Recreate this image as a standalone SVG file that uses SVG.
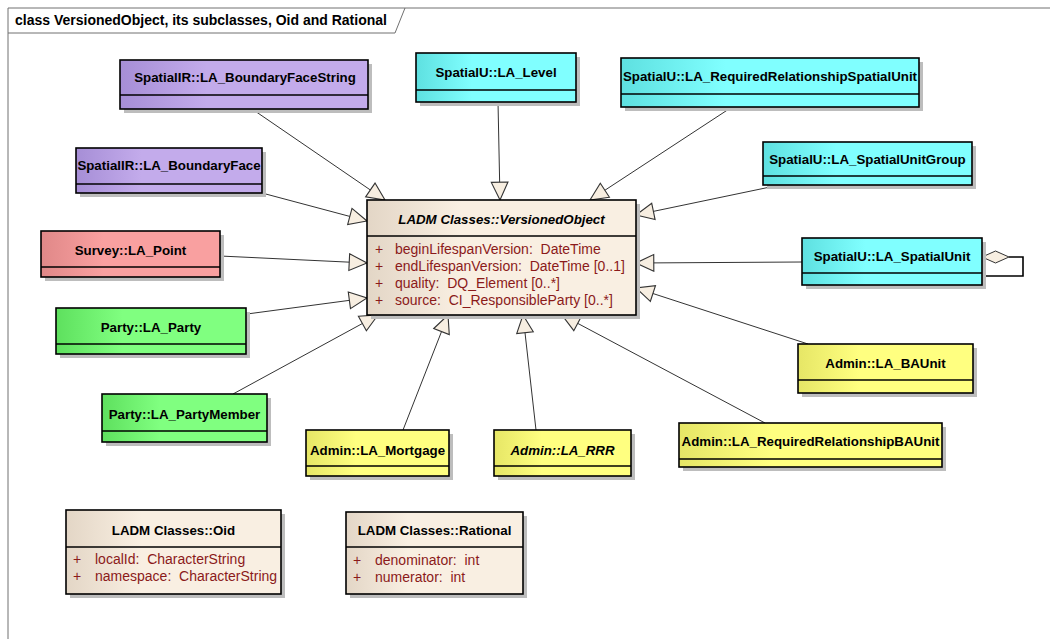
<svg xmlns="http://www.w3.org/2000/svg" width="1050" height="639" viewBox="0 0 1050 639">
<style>
.box{stroke:#000;stroke-width:1.6}
.sh{fill:#bdbdbd}
.div{stroke:#000;stroke-width:1.4}
.t{font-family:"Liberation Sans",Arial,sans-serif;font-size:13.3px;font-weight:bold;fill:#000;text-anchor:middle}
.ti{font-style:italic}
.a{font-family:"Liberation Sans",Arial,sans-serif;font-size:14px;fill:#8b1a1a;white-space:pre}
.c{stroke:#333;stroke-width:1;fill:none}
.frame{stroke:#707070;stroke-width:1;fill:none}
</style>
<defs>
<linearGradient id="gP" x1="0" y1="0" x2="1" y2="0"><stop offset="0" stop-color="#a68ed6"/><stop offset="0.35" stop-color="#c3abeb"/></linearGradient>
<linearGradient id="gC" x1="0" y1="0" x2="1" y2="0"><stop offset="0" stop-color="#5ee0e0"/><stop offset="0.35" stop-color="#80ffff"/></linearGradient>
<linearGradient id="gR" x1="0" y1="0" x2="1" y2="0"><stop offset="0" stop-color="#e08888"/><stop offset="0.35" stop-color="#f9a0a0"/></linearGradient>
<linearGradient id="gG" x1="0" y1="0" x2="1" y2="0"><stop offset="0" stop-color="#5ee05e"/><stop offset="0.35" stop-color="#80ff80"/></linearGradient>
<linearGradient id="gY" x1="0" y1="0" x2="1" y2="0"><stop offset="0" stop-color="#e6e666"/><stop offset="0.35" stop-color="#ffff80"/></linearGradient>
<linearGradient id="gB" x1="0" y1="0" x2="1" y2="0"><stop offset="0" stop-color="#e3d6c6"/><stop offset="0.35" stop-color="#f9efe2"/></linearGradient>
<marker id="gen" markerUnits="userSpaceOnUse" markerWidth="20" markerHeight="20" viewBox="-1 -9 18 18" refX="16" refY="0" orient="auto">
<path d="M0,-7.5 L16,0 L0,7.5 Z" fill="#f7eee1" stroke="#333" stroke-width="1"/>
</marker>
</defs>
<rect width="1050" height="639" fill="#fff"/>
<g id="frame">
<path class="frame" d="M8,639 V8 H1050"/>
<path class="frame" d="M8,33 H395 L405,8"/>
<text x="15" y="25" class="t" style="text-anchor:start;font-size:14px">class VersionedObject, its subclasses, Oid and Rational</text>
</g>
<g id="connectors">
<line class="c" x1="252" y1="109" x2="385" y2="200" marker-end="url(#gen)"/>
<line class="c" x1="498" y1="102" x2="500" y2="200" marker-end="url(#gen)"/>
<line class="c" x1="732" y1="107" x2="590" y2="200" marker-end="url(#gen)"/>
<line class="c" x1="262" y1="193" x2="367" y2="221" marker-end="url(#gen)"/>
<line class="c" x1="775" y1="186" x2="636" y2="215" marker-end="url(#gen)"/>
<line class="c" x1="220" y1="256" x2="367" y2="263" marker-end="url(#gen)"/>
<line class="c" x1="247" y1="314" x2="367" y2="298" marker-end="url(#gen)"/>
<line class="c" x1="233" y1="394" x2="378" y2="315" marker-end="url(#gen)"/>
<line class="c" x1="403" y1="430" x2="448" y2="315" marker-end="url(#gen)"/>
<line class="c" x1="536" y1="430" x2="523" y2="315" marker-end="url(#gen)"/>
<line class="c" x1="808" y1="344" x2="636" y2="288" marker-end="url(#gen)"/>
<line class="c" x1="765" y1="423" x2="562" y2="315" marker-end="url(#gen)"/>
<line class="c" x1="802" y1="262" x2="636" y2="263" marker-end="url(#gen)"/>
<path d="M1009,257 H1023 V276 H982" fill="none" stroke="#000" stroke-width="1.6"/>
<path d="M982,257 L995.5,251 L1009,257 L995.5,263 Z" fill="#f7eee1" stroke="#333" stroke-width="1"/>
</g>
<g id="VersionedObject">
<rect class="sh" x="371" y="204" width="269" height="115"/>
<rect class="box" x="367" y="200" width="269" height="115" fill="url(#gB)"/>
<line class="div" x1="367" y1="236" x2="636" y2="236"/>
<text x="501.5" y="224" class="t ti">LADM Classes::VersionedObject</text>
<text class="a" x="375" y="254">+</text><text class="a" x="395" y="254">beginLifespanVersion:  DateTime</text>
<text class="a" x="375" y="271">+</text><text class="a" x="395" y="271">endLifespanVersion:  DateTime [0..1]</text>
<text class="a" x="375" y="288">+</text><text class="a" x="395" y="288">quality:  DQ_Element [0..*]</text>
<text class="a" x="375" y="305">+</text><text class="a" x="395" y="305">source:  CI_ResponsibleParty [0..*]</text>
</g>
<g id="BoundaryFaceString">
<rect class="sh" x="124" y="64" width="248" height="49"/>
<rect class="box" x="120" y="60" width="248" height="49" fill="url(#gP)"/>
<line class="div" x1="120" y1="95" x2="368" y2="95"/>
<text x="245" y="82" class="t">SpatialIR::LA_BoundaryFaceString</text>
</g>
<g id="BoundaryFace">
<rect class="sh" x="80" y="152" width="186" height="45"/>
<rect class="box" x="76" y="148" width="186" height="45" fill="url(#gP)"/>
<line class="div" x1="76" y1="184" x2="262" y2="184"/>
<text x="169" y="170" class="t">SpatialIR::LA_BoundaryFace</text>
</g>
<g id="Level">
<rect class="sh" x="420" y="57" width="160" height="49"/>
<rect class="box" x="416" y="53" width="160" height="49" fill="url(#gC)"/>
<line class="div" x1="416" y1="90" x2="576" y2="90"/>
<text x="496" y="77" class="t">SpatialU::LA_Level</text>
</g>
<g id="RequiredRelationshipSpatialUnit">
<rect class="sh" x="625" y="62" width="298" height="49"/>
<rect class="box" x="621" y="58" width="298" height="49" fill="url(#gC)"/>
<line class="div" x1="621" y1="94" x2="919" y2="94"/>
<text x="770" y="81" class="t">SpatialU::LA_RequiredRelationshipSpatialUnit</text>
</g>
<g id="SpatialUnitGroup">
<rect class="sh" x="767" y="146" width="209" height="43"/>
<rect class="box" x="763" y="142" width="209" height="43" fill="url(#gC)"/>
<line class="div" x1="763" y1="176" x2="972" y2="176"/>
<text x="867.5" y="164" class="t">SpatialU::LA_SpatialUnitGroup</text>
</g>
<g id="SpatialUnit">
<rect class="sh" x="806" y="242" width="180" height="47"/>
<rect class="box" x="802" y="238" width="180" height="47" fill="url(#gC)"/>
<line class="div" x1="802" y1="273" x2="982" y2="273"/>
<text x="892" y="261" class="t">SpatialU::LA_SpatialUnit</text>
</g>
<g id="LA_Point">
<rect class="sh" x="45" y="235" width="179" height="46"/>
<rect class="box" x="41" y="231" width="179" height="46" fill="url(#gR)"/>
<line class="div" x1="41" y1="267" x2="220" y2="267"/>
<text x="130.5" y="255" class="t">Survey::LA_Point</text>
</g>
<g id="LA_Party">
<rect class="sh" x="60" y="312" width="190" height="46"/>
<rect class="box" x="56" y="308" width="190" height="46" fill="url(#gG)"/>
<line class="div" x1="56" y1="344" x2="246" y2="344"/>
<text x="151" y="332" class="t">Party::LA_Party</text>
</g>
<g id="LA_PartyMember">
<rect class="sh" x="106" y="398" width="165" height="48"/>
<rect class="box" x="102" y="394" width="165" height="48" fill="url(#gG)"/>
<line class="div" x1="102" y1="431" x2="267" y2="431"/>
<text x="184.5" y="419" class="t">Party::LA_PartyMember</text>
</g>
<g id="LA_Mortgage">
<rect class="sh" x="310" y="434" width="143" height="46"/>
<rect class="box" x="306" y="430" width="143" height="46" fill="url(#gY)"/>
<line class="div" x1="306" y1="466" x2="449" y2="466"/>
<text x="377.5" y="455" class="t">Admin::LA_Mortgage</text>
</g>
<g id="LA_RRR">
<rect class="sh" x="498" y="434" width="137" height="46"/>
<rect class="box" x="494" y="430" width="137" height="46" fill="url(#gY)"/>
<line class="div" x1="494" y1="466" x2="631" y2="466"/>
<text x="562.5" y="455" class="t ti">Admin::LA_RRR</text>
</g>
<g id="LA_BAUnit">
<rect class="sh" x="802" y="348" width="175" height="49"/>
<rect class="box" x="798" y="344" width="175" height="49" fill="url(#gY)"/>
<line class="div" x1="798" y1="380" x2="973" y2="380"/>
<text x="885.5" y="368" class="t">Admin::LA_BAUnit</text>
</g>
<g id="LA_RequiredRelationshipBAUnit">
<rect class="sh" x="683" y="427" width="263" height="44"/>
<rect class="box" x="679" y="423" width="263" height="44" fill="url(#gY)"/>
<line class="div" x1="679" y1="459" x2="942" y2="459"/>
<text x="810.5" y="446" class="t">Admin::LA_RequiredRelationshipBAUnit</text>
</g>
<g id="Oid">
<rect class="sh" x="70" y="514" width="215" height="84"/>
<rect class="box" x="66" y="510" width="215" height="84" fill="url(#gB)"/>
<line class="div" x1="66" y1="547" x2="281" y2="547"/>
<text x="173.5" y="535" class="t">LADM Classes::Oid</text>
<text class="a" x="73" y="564">+</text><text class="a" x="95" y="564">localId:  CharacterString</text>
<text class="a" x="73" y="581">+</text><text class="a" x="95" y="581">namespace:  CharacterString</text>
</g>
<g id="Rational">
<rect class="sh" x="350" y="516" width="177" height="82"/>
<rect class="box" x="346" y="512" width="177" height="82" fill="url(#gB)"/>
<line class="div" x1="346" y1="547" x2="523" y2="547"/>
<text x="434.5" y="535" class="t">LADM Classes::Rational</text>
<text class="a" x="353" y="565">+</text><text class="a" x="375" y="565">denominator:  int</text>
<text class="a" x="353" y="582">+</text><text class="a" x="375" y="582">numerator:  int</text>
</g>
</svg>
